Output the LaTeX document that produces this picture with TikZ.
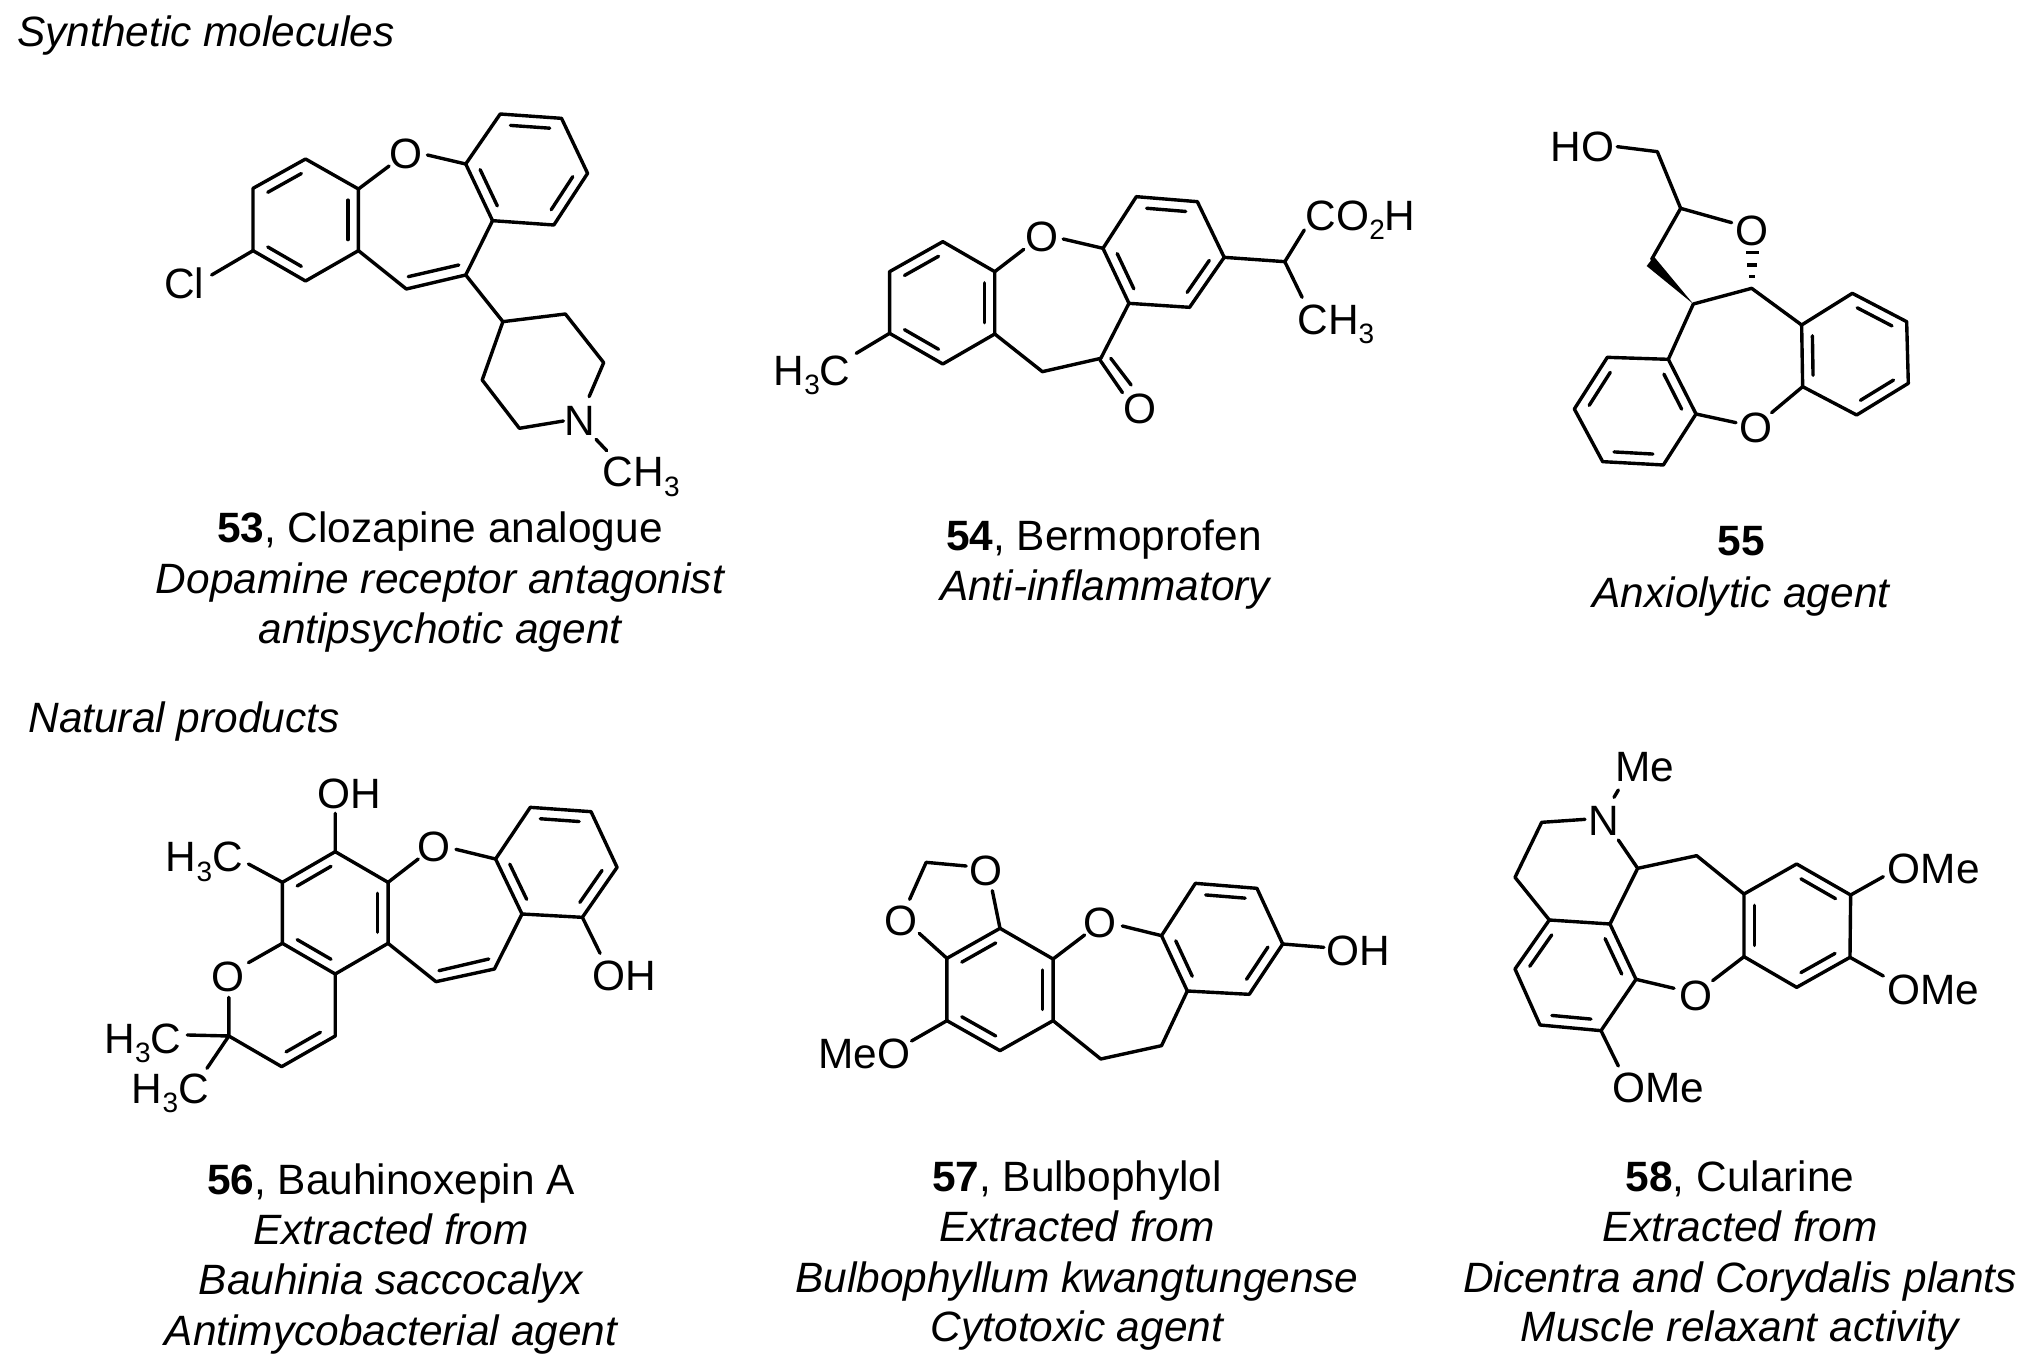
\documentclass[tikz,border=0pt]{standalone}
\usepackage{fontspec}
\setmainfont{Liberation Sans}
\usetikzlibrary{calc}
\newcommand\csub[1]{\raisebox{-.22em}{\fontsize{14}{14}\selectfont #1}}
\newcommand\pts[1]{\foreach \n/\xx/\yy in {#1} {\coordinate (\n) at (\xx,\yy);}}
\newcommand\dbl[3]{\draw[bond] ($($(#1)!.1!(#2)$)!.2!(#3)$) -- ($($(#1)!.9!(#2)$)!.2!(#3)$);}
\tikzset{
  bond/.style={line width=1.7pt,line cap=round,line join=round,black},
  lbl/.style={inner sep=0pt,text height=15.2pt,text depth=0pt,font=\fontsize{21.2}{25}\selectfont},
  captxt/.style={lbl,anchor=center},
  headtxt/.style={lbl,anchor=west},
}
\begin{document}
\begin{tikzpicture}[x=0.5pt,y=-0.5pt]
\path[use as bounding box,fill=white] (0,0) rectangle (2030,1371);

% headers
\node[headtxt] (hsyn) at (17,31) {\itshape Synthetic molecules};
\node[headtxt] (hnat) at (28,717) {\itshape Natural products};

% ---------- 53
\begin{scope}[shift={(140,90)},x=0.5pt/2.61,y=-0.5pt/3]
\pts{53a1/432/207,53a2/295/295,53a3/295/482,53a4/432/573,53a5/570/482,53a6/570/297,
 53b1/850/222,53b2/940/72,53b3/1100/85,53b4/1168/250,53b5/1080/405,53b6/920/392,
 53c1/695/597,53c2/850/555,53oa/650/228,53ob/750/195,53cl/187/555,
 53p1/947/695,53p2/1110/672,53p3/1210/818,53p4/990/1015,53p5/893/870,
 53na/1172/920,53nb/1105/993,53nc/1190/1048,53nd/1218/1082,
 53ca/432/390,53cb/1010/238,53i1/700/560,53i2/832/525}
\draw[bond] (53a1)--(53a2)--(53a3)--(53a4)--(53a5)--(53a6)--cycle;
\draw[bond] (53b1)--(53b2)--(53b3)--(53b4)--(53b5)--(53b6)--cycle;
\draw[bond] (53a6)--(53oa) (53ob)--(53b1) (53a5)--(53c1)--(53c2)--(53b6) (53a3)--(53cl);
\draw[bond] (53c2)--(53p1)--(53p2)--(53p3)--(53na) (53nb)--(53p4)--(53p5)--(53p1) (53nc)--(53nd) (53i1)--(53i2);
\dbl{53a1}{53a2}{53ca}\dbl{53a3}{53a4}{53ca}\dbl{53a5}{53a6}{53ca}
\dbl{53b1}{53b6}{53cb}\dbl{53b2}{53b3}{53cb}\dbl{53b4}{53b5}{53cb}
\node[lbl] (53O) at (695,190) {O};
\node[lbl] (53Cl) at (115,580) {Cl};
\node[lbl] (53N) at (1148,992) {N};
\node[lbl] (53Me) at (1308,1145) {CH\csub{3}};
\end{scope}

% ---------- 54
\begin{scope}[shift={(761,170)},x=0.5pt/2.31,y=-0.5pt/3]
\pts{54a1/420/215,54a2/297/305,54a3/297/490,54a4/420/582,54a5/540/492,54a6/540/305,
 54b1/790/235,54b2/867/80,54b3/1008/95,54b4/1070/262,54b5/990/412,54b6/850/400,
 54c1/650/605,54c2/785/565,54oa/607/238,54ob/698/207,54m/220/550,
 54s/1210/275,54sa/1255/180,54sb/1250/382,
 54d1/783/570,54d2/835/668,54d3/808/565,54d4/855/645,
 54ca/420/398,54cb/930/248}
\draw[bond] (54a1)--(54a2)--(54a3)--(54a4)--(54a5)--(54a6)--cycle;
\draw[bond] (54b1)--(54b2)--(54b3)--(54b4)--(54b5)--(54b6)--cycle;
\draw[bond] (54a6)--(54oa) (54ob)--(54b1) (54a5)--(54c1)--(54c2)--(54b6) (54a3)--(54m);
\draw[bond] (54b4)--(54s)--(54sa) (54s)--(54sb) (54d1)--(54d2) (54d3)--(54d4);
\dbl{54a1}{54a2}{54ca}\dbl{54a3}{54a4}{54ca}\dbl{54a5}{54a6}{54ca}
\dbl{54b1}{54b6}{54cb}\dbl{54b2}{54b3}{54cb}\dbl{54b4}{54b5}{54cb}
\node[lbl] (54O) at (650,198) {O};
\node[lbl] (54O2) at (875,715) {O};
\node[lbl] (54H3C) at (118,600) {H\csub{3}C};
\node[lbl] (54COOH) at (1385,135) {CO\csub{2}H};
\node[lbl] (54Me) at (1328,447) {CH\csub{3}};
\end{scope}

% ---------- 55
\begin{scope}[shift={(1530,110)},x=0.5pt/3,y=-0.5pt/3]
\pts{55ho/262/110,55c1/382/125,55c2/452/295,55oa/605/338,55c3/365/448,55c5/490/582,55c6/665/535,
 55w1/372/440,55w2/350/468,
 55h1l/648/428,55h1r/688/428,55h2l/652/465,55h2r/682/465,55h3l/658/500,55h3r/675/500,
 55r1/815/645,55r2/967/550,55r3/1130/635,55r4/1135/820,55r5/980/915,55r6/818/830,
 55l1/415/748,55l2/232/742,55l3/133/897,55l4/218/1055,55l5/400/1065,55l6/498/912,
 55pa/618/938,55pb/725/908,55cr/975/733,55cl/316/905}
\draw[bond] (55r1)--(55r2)--(55r3)--(55r4)--(55r5)--(55r6)--cycle;
\draw[bond] (55l1)--(55l2)--(55l3)--(55l4)--(55l5)--(55l6)--cycle;
\draw[bond] (55ho)--(55c1)--(55c2)--(55oa) (55c2)--(55c3) (55c5)--(55c6)--(55r1) (55c5)--(55l1) (55l6)--(55pa) (55pb)--(55r6);
\fill[black] (55c5)--(55w1)--(55w2)--cycle;
\draw[bond,line cap=butt] (55h1l)--(55h1r) (55h2l)--(55h2r) (55h3l)--(55h3r);
\dbl{55r1}{55r6}{55cr}\dbl{55r2}{55r3}{55cr}\dbl{55r4}{55r5}{55cr}
\dbl{55l1}{55l6}{55cl}\dbl{55l2}{55l3}{55cl}\dbl{55l4}{55l5}{55cl}
\node[lbl] (55HO) at (158,108) {HO};
\node[lbl] (55O) at (665,360) {O};
\node[lbl] (55O2) at (678,952) {O};
\end{scope}

% ---------- 56
\begin{scope}[shift={(90,760)},x=0.5pt/2.65,y=-0.5pt/3]
\pts{56m1/650/275,56m2/510/367,56m3/510/550,56m4/650/642,56m5/790/550,56m6/790/367,
 56n1/1075/297,56n2/1167/142,56n3/1328/155,56n4/1397/322,56n5/1305/472,56n6/1145/462,
 56v1/917/665,56v2/1072/627,56i1/925/632,56i2/1057/597,
 56oh/650/160,56me/420/312,56oa/870/297,56ob/970/268,56oc/1352/580,
 56qa/420/608,56qb/368/712,56q1/368/828,56q2/508/920,56q3/650/828,
 56ma/258/825,56mb/310/925,56cm/650/458,56cn/1235/308,56cq/510/735}
\draw[bond] (56m1)--(56m2)--(56m3)--(56m4)--(56m5)--(56m6)--cycle;
\draw[bond] (56n1)--(56n2)--(56n3)--(56n4)--(56n5)--(56n6)--cycle;
\draw[bond] (56m1)--(56oh) (56m2)--(56me) (56m6)--(56oa) (56ob)--(56n1) (56m5)--(56v1)--(56v2)--(56n6) (56n5)--(56oc);
\draw[bond] (56m3)--(56qa) (56qb)--(56q1)--(56q2)--(56q3)--(56m4) (56q1)--(56ma) (56q1)--(56mb) (56i1)--(56i2);
\dbl{56m1}{56m2}{56cm}\dbl{56m3}{56m4}{56cm}\dbl{56m5}{56m6}{56cm}
\dbl{56n1}{56n6}{56cn}\dbl{56n2}{56n3}{56cn}\dbl{56n4}{56n5}{56cn}
\dbl{56q2}{56q3}{56cq}
\node[lbl] (56OHa) at (688,100) {OH};
\node[lbl] (56Mea) at (303,290) {H\csub{3}C};
\node[lbl] (56O) at (912,258) {O};
\node[lbl] (56OHb) at (1415,645) {OH};
\node[lbl] (56O2) at (367,648) {O};
\node[lbl] (56Meb) at (140,835) {H\csub{3}C};
\node[lbl] (56Mec) at (213,985) {H\csub{3}C};
\end{scope}

% ---------- 57
\begin{scope}[shift={(800,840)},x=0.5pt/2.6,y=-0.5pt/3]
\pts{57m1/520/265,57m2/382/355,57m3/382/542,57m4/520/632,57m5/658/542,57m6/658/357,
 57n1/940/287,57n2/1028/130,57n3/1188/145,57n4/1255/312,57n5/1168/463,57n6/1007/453,
 57ch/328/67,57oa/432/78,57ob/285/178,57oc/500/152,57od/310/280,
 57pa/740/285,57pb/838/258,57oh/1362/322,57me/290/603,57e1/782/657,57e2/940/617,
 57cm/520/448,57cn/1098/298}
\draw[bond] (57m1)--(57m2)--(57m3)--(57m4)--(57m5)--(57m6)--cycle;
\draw[bond] (57n1)--(57n2)--(57n3)--(57n4)--(57n5)--(57n6)--cycle;
\draw[bond] (57oa)--(57ch)--(57ob) (57oc)--(57m1) (57od)--(57m2) (57m6)--(57pa) (57pb)--(57n1) (57n4)--(57oh) (57m3)--(57me) (57m5)--(57e1)--(57e2)--(57n6);
\dbl{57m1}{57m2}{57cm}\dbl{57m3}{57m4}{57cm}\dbl{57m5}{57m6}{57cm}
\dbl{57n1}{57n6}{57cn}\dbl{57n2}{57n3}{57cn}\dbl{57n4}{57n5}{57cn}
\node[lbl] (57Oa) at (483,92) {O};
\node[lbl] (57Ob) at (262,240) {O};
\node[lbl] (57O) at (780,248) {O};
\node[lbl] (57OH) at (1452,330) {OH};
\node[lbl] (57MeO) at (167,640) {MeO};
\end{scope}

% ---------- 58
\begin{scope}[shift={(1490,740)},x=0.5pt/3,y=-0.5pt/3]
\pts{58ma/372/172,58mb/385/150,58na/285/238,58c1/155/247,58c2/75/412,58l0/178/540,
 58nb/385/300,58d1/443/385,58d2/620/347,58l5/360/552,58l1/438/718,58l2/333/872,58l3/150/855,58l4/75/687,
 58r1/762/462,58r2/920/372,58r3/1082/465,58r4/1080/652,58r5/920/742,58r6/762/650,
 58oa/1180/410,58ob/1180/708,58oc/668/722,58od/552/745,58oe/385/978,
 58cl/255/705,58cr/920/557}
\draw[bond] (58l0)--(58l5)--(58l1)--(58l2)--(58l3)--(58l4)--cycle;
\draw[bond] (58r1)--(58r2)--(58r3)--(58r4)--(58r5)--(58r6)--cycle;
\draw[bond] (58ma)--(58mb) (58na)--(58c1)--(58c2)--(58l0) (58nb)--(58d1)--(58l5) (58d1)--(58d2)--(58r1) (58r3)--(58oa) (58r4)--(58ob) (58r6)--(58oc) (58od)--(58l1) (58l2)--(58oe);
\dbl{58l0}{58l4}{58cl}\dbl{58l5}{58l1}{58cl}\dbl{58l2}{58l3}{58cl}
\dbl{58r1}{58r6}{58cr}\dbl{58r2}{58r3}{58cr}\dbl{58r4}{58r5}{58cr}
\node[lbl] (58Me) at (465,78) {Me};
\node[lbl] (58N) at (340,240) {N};
\node[lbl] (58OMea) at (1331,385) {OMe};
\node[lbl] (58OMeb) at (1329,748) {OMe};
\node[lbl] (58O) at (618,765) {O};
\node[lbl] (58OMec) at (504,1042) {OMe};
\end{scope}

% captions
\node[captxt] (t53a) at (440,527) {\textbf{53}, Clozapine analogue};
\node[captxt] (t53b) at (440,578) {\itshape Dopamine receptor antagonist};
\node[captxt] (t53c) at (440,628) {\itshape antipsychotic agent};
\node[captxt] (t54a) at (1104,535) {\textbf{54}, Bermoprofen};
\node[captxt] (t54b) at (1105,585) {\itshape Anti-inflammatory};
\node[captxt] (t55a) at (1741,540) {\textbf{55}};
\node[captxt] (t55b) at (1741,592) {\itshape Anxiolytic agent};
\node[captxt] (t56a) at (391,1179) {\textbf{56}, Bauhinoxepin A};
\node[captxt] (t56b) at (391,1229) {\itshape Extracted from};
\node[captxt] (t56c) at (391,1279) {\itshape Bauhinia saccocalyx};
\node[captxt] (t56d) at (391,1330) {\itshape Antimycobacterial agent};
\node[captxt] (t57a) at (1077,1176) {\textbf{57}, Bulbophylol};
\node[captxt] (t57b) at (1077,1226) {\itshape Extracted from};
\node[captxt] (t57c) at (1077,1277) {\itshape Bulbophyllum kwangtungense};
\node[captxt] (t57d) at (1077,1326) {\itshape Cytotoxic agent};
\node[captxt] (t58a) at (1740,1176) {\textbf{58}, Cularine};
\node[captxt] (t58b) at (1740,1226) {\itshape Extracted from};
\node[captxt] (t58c) at (1740,1277) {\itshape Dicentra and Corydalis plants};
\node[captxt] (t58d) at (1740,1326) {\itshape Muscle relaxant activity};
\end{tikzpicture}
\end{document}
